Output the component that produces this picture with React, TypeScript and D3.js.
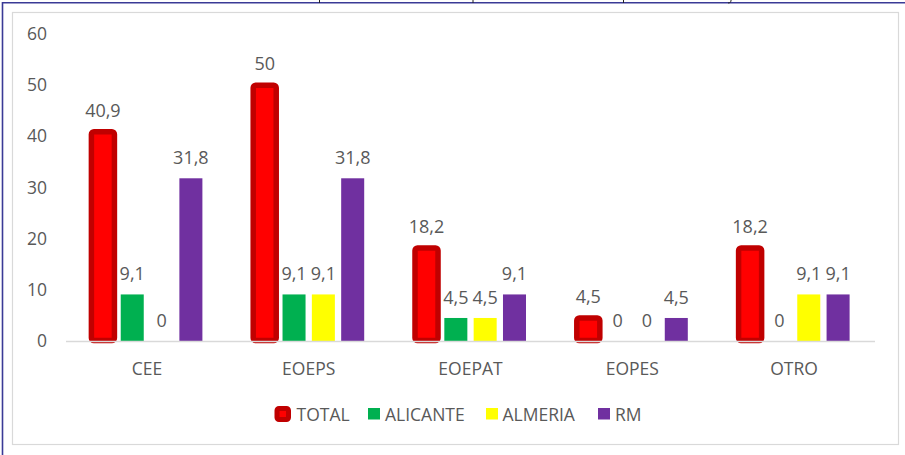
import React from "react";
import * as d3 from "d3";

const categories = ["CEE", "EOEPS", "EOEPAT", "EOPES", "OTRO"];
const seriesNames = ["TOTAL", "ALICANTE", "ALMERIA", "RM"];
const totalValues = [40.9, 50, 18.2, 4.5, 18.2];
const alicanteValues = [9.1, 9.1, 4.5, 0, 0];
const almeriaValues = [0, 9.1, 4.5, 0, 9.1];
const rmValues = [31.8, 31.8, 9.1, 4.5, 9.1];
const yTicks = [0, 10, 20, 30, 40, 50, 60];

const seriesValues = [totalValues, alicanteValues, almeriaValues, rmValues];
const fills = ["#FF0000", "#00B050", "#FFFF00", "#7030A0"];

const W = 905;
const H = 455;
const plotLeft = 66;
const plotRight = 875;
const yBase = 341;
const yTop = 34;
const font = "'Open Sans', sans-serif";
const textColor = "#595959";

export default function App() {
  const x0 = d3.scaleBand<string>().domain(categories).range([plotLeft, plotRight]).padding(0);
  const y = d3.scaleLinear().domain([0, 60]).range([yBase, yTop]);
  const x1 = d3
    .scaleBand<string>()
    .domain(seriesNames)
    .range([-55.5, 55.5])
    .paddingInner(0.215)
    .paddingOuter(0);
  const fmt = (v: number) => String(v).replace(".", ",");

  const legendItems = [
    { name: "TOTAL", mx: 277, tx: 296.5 },
    { name: "ALICANTE", mx: 368, tx: 385 },
    { name: "ALMERIA", mx: 486, tx: 502.5 },
    { name: "RM", mx: 598, tx: 615 },
  ];

  return (
    <svg
      width={W}
      height={H}
      style={{ position: "absolute", left: 0, top: 0, background: "#fff" }}
      fontFamily={font}
    >
      <rect x={0} y={0} width={W} height={H} fill="#fff" />
      {/* outer navy frame */}
      <line x1={2.5} y1={2.7} x2={W} y2={2.7} stroke="#3a3a96" strokeWidth={1.6} />
      <line x1={2.5} y1={2} x2={2.5} y2={H} stroke="#3a3a96" strokeWidth={1.6} />
      {/* descender remnants of cut-off title */}
      <line x1={319.5} y1={0} x2={319.5} y2={3} stroke="#222" strokeWidth={1} />
      <line x1={473} y1={0} x2={473} y2={3} stroke="#222" strokeWidth={1} />
      <line x1={623.5} y1={0} x2={623.5} y2={3} stroke="#222" strokeWidth={1} />
      <path d="M731,0 L731,1.5 Q730,3 728,3" fill="none" stroke="#222" strokeWidth={1} />
      {/* chart area border */}
      <rect x={12.5} y={12.5} width={886} height={432} fill="#fff" stroke="#d9d9d9" strokeWidth={1.2} />

      {/* y tick labels */}
      {yTicks.map((t) => (
        <text
          key={t}
          x={47}
          y={y(t) + 6}
          textAnchor="end"
          fontSize={17.5}
          fill={textColor}
        >
          {t}
        </text>
      ))}

      {/* bars */}
      {categories.map((c, ci) => {
        const cx = (x0(c) as number) + x0.bandwidth() / 2;
        return (
          <g key={c}>
            {seriesNames.map((s, si) => {
              const v = seriesValues[si][ci];
              const bx = cx + (x1(s) as number);
              const bw = x1.bandwidth();
              const top = y(v);
              const h = yBase - top;
              const isTotal = si === 0;
              return (
                <g key={s}>
                  {h > 0 &&
                    (isTotal ? (
                      <rect
                        x={bx}
                        y={top}
                        width={bw}
                        height={h - 0.5}
                        fill={fills[si]}
                        stroke="#C00000"
                        strokeWidth={5.5}
                        rx={2.5}
                      />
                    ) : (
                      <rect x={bx} y={top} width={bw} height={h} fill={fills[si]} />
                    ))}
                  <text
                    x={bx + bw / 2}
                    y={top - (isTotal ? 15 : 14)}
                    textAnchor="middle"
                    fontSize={18}
                    fill={textColor}
                  >
                    {fmt(v)}
                  </text>
                </g>
              );
            })}
            <text x={cx} y={375} textAnchor="middle" fontSize={17.5} fill={textColor}>
              {c}
            </text>
          </g>
        );
      })}

      {/* baseline */}
      <line x1={plotLeft} y1={yBase + 0.5} x2={plotRight} y2={yBase + 0.5} stroke="#d9d9d9" strokeWidth={1.6} />

      {/* legend */}
      {legendItems.map((it, i) => (
        <g key={it.name}>
          {i === 0 ? (
            <rect
              x={it.mx}
              y={408.5}
              width={11.5}
              height={11}
              fill={fills[0]}
              stroke="#C00000"
              strokeWidth={5}
              rx={2}
            />
          ) : (
            <rect x={it.mx} y={408} width={12} height={11.5} fill={fills[i]} />
          )}
          <text x={it.tx} y={420.5} fontSize={17.5} fill={textColor}>
            {it.name}
          </text>
        </g>
      ))}
    </svg>
  );
}
